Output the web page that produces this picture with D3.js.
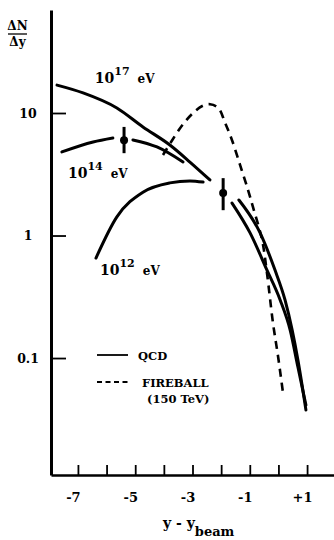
<!DOCTYPE html>
<html>
<head>
<meta charset="utf-8">
<script src="https://cdn.jsdelivr.net/npm/d3@7"></script>
<style>
  body { margin: 0; background: #fff; }
  svg { display: block; }
  text { font-family: "DejaVu Serif", serif; font-weight: bold; fill: #000; }
</style>
</head>
<body>
<svg id="chart" width="334" height="540"></svg>
<script>

// ticks
const xTicks = [-7, -6, -5, -4, -3, -2, -1, 0, 1];
const xTickLabels = ["-7", "", "-5", "", "-3", "", "-1", "", "+1"];
const yTicks = [0.1, 1, 10];
const yTickLabels = ["0.1", "1", "10"];

// QCD curves  [y - ybeam, dN/dy]
const qcd17 = [[-7.73, 16.9], [-6.82, 14.6], [-5.64, 11.0], [-4.73, 7.7], [-3.79, 5.48], [-3.09, 3.98], [-2.39, 2.84]];
const qcd14a = [[-7.56, 4.81], [-6.47, 5.8], [-5.78, 6.25]];
const qcd14b = [[-5.08, 6.03], [-4.24, 5.28], [-3.33, 3.98]];
const qcd12 = [[-6.37, 0.655], [-5.64, 1.42], [-4.73, 2.26], [-3.79, 2.69], [-3.09, 2.79], [-2.63, 2.73]];
const tailA = [[-1.62, 1.84], [-0.99, 1.05], [-0.40, 0.522], [0.06, 0.298], [0.41, 0.169], [0.68, 0.0845], [0.96, 0.0413]];
const tailB = [[-1.38, 1.95], [-0.64, 1.05], [-0.12, 0.522], [0.23, 0.298], [0.48, 0.169], [0.68, 0.0964], [0.96, 0.0377]];

// fireball 150 TeV (dashed)
const fireball = [[-4.03, 4.54], [-3.71, 6.0], [-3.33, 8.1], [-2.98, 10.0], [-2.66, 11.4],
  [-2.39, 11.8], [-2.10, 11.0], [-1.86, 8.3], [-1.62, 6.0], [-1.34, 3.77], [-1.06, 2.35],
  [-0.89, 1.71], [-0.57, 0.918], [-0.40, 0.494], [-0.19, 0.193], [-0.01, 0.102], [0.16, 0.0518]];

// data points with error bars
const errX = [-5.39, -1.93];
const errY = [6.0, 2.22];
const errLo = [4.7, 1.61];
const errHi = [7.7, 2.94];

// energy labels
const energyExp = ["17", "14", "12"];
const energyX = [-6.41, -7.35, -6.23];
const energyY = [17.6, 2.94, 0.477];

const svg = d3.select('#chart');

let x = d3.scaleLinear().domain([-7.94, 1.94]).range([51, 334]);
let y = d3.scaleLog().domain([0.0111, 69.3]).range([475, 10]);

// axes
let xAxis = d3.axisBottom(x)
  .tickValues(xTicks)
  .tickSizeInner(-10)
  .tickSizeOuter(0)
  .tickPadding(18)
  .tickFormat((d, i) => xTickLabels[i]);

let gx = svg.append('g')
  .attr('transform', 'translate(0,475)')
  .call(xAxis);
gx.select('.domain').attr('stroke-width', 2.5);
gx.selectAll('.tick line').attr('stroke-width', 1.8);
gx.selectAll('.tick text')
  .attr('font-size', 13)
  .attr('font-family', '"DejaVu Serif", serif')
  .attr('dx', -5);

let yAxis = d3.axisLeft(y)
  .tickValues(yTicks)
  .tickSizeInner(-15)
  .tickSizeOuter(0)
  .tickFormat((d, i) => yTickLabels[i]);

let gy = svg.append('g')
  .attr('transform', 'translate(51,0)')
  .call(yAxis);
gy.select('.domain').attr('stroke-width', 3);
gy.selectAll('.tick line').attr('stroke-width', 1.8);
gy.selectAll('.tick text')
  .attr('font-size', 12.5)
  .attr('font-family', '"DejaVu Serif", serif')
  .attr('text-anchor', 'middle')
  .attr('x', -23);

// axis titles
svg.append('text').attr('x', 17.5).attr('y', 30).attr('text-anchor', 'middle')
  .attr('font-size', 12).text('ΔN');
svg.append('line').attr('x1', 8).attr('x2', 27).attr('y1', 34).attr('y2', 34)
  .attr('stroke', '#000').attr('stroke-width', 1.3);
svg.append('text').attr('x', 17.5).attr('y', 46).attr('text-anchor', 'middle')
  .attr('font-size', 12).text('Δy');

let xt = svg.append('text').attr('x', 163).attr('y', 528).attr('font-size', 14);
xt.append('tspan').text('y - y');
xt.append('tspan').attr('dy', 8).attr('font-size', 13).text('beam');

// curves
let line = d3.line()
  .x(d => x(d[0]))
  .y(d => y(d[1]))
  .curve(d3.curveMonotoneX);

let solid = [qcd17, qcd14a, qcd14b, qcd12, tailA, tailB];

svg.selectAll('.qcd')
  .data(solid)
  .join('path')
  .classed('qcd', true)
  .attr('d', line)
  .attr('fill', 'none')
  .attr('stroke', '#000')
  .attr('stroke-width', 3)
  .attr('stroke-linecap', 'round');

svg.append('path')
  .datum(fireball)
  .attr('d', d3.line().x(d => x(d[0])).y(d => y(d[1])).curve(d3.curveCatmullRom))
  .attr('fill', 'none')
  .attr('stroke', '#000')
  .attr('stroke-width', 2.6)
  .attr('stroke-dasharray', '8,6');

// error bars
svg.selectAll('.err')
  .data(errX)
  .join('line')
  .classed('err', true)
  .attr('x1', d => x(d)).attr('x2', d => x(d))
  .attr('y1', (d, i) => y(errHi[i]))
  .attr('y2', (d, i) => y(errLo[i]))
  .attr('stroke', '#000')
  .attr('stroke-width', 3);

svg.selectAll('.pt')
  .data(errX)
  .join('circle')
  .classed('pt', true)
  .attr('cx', d => x(d))
  .attr('cy', (d, i) => y(errY[i]))
  .attr('r', 4)
  .attr('fill', '#000');

// energy labels 10^n eV
energyExp.forEach((e, i) => {
  let t = svg.append('text')
    .attr('x', x(energyX[i]))
    .attr('y', y(energyY[i]))
    .attr('font-size', 14);
  t.append('tspan').text('10');
  t.append('tspan').attr('dy', -8).attr('font-size', 11).text(e);
  t.append('tspan').attr('dy', 8).attr('dx', 8).attr('font-size', 12).text('eV');
});

// legend
let lg = svg.append('g').attr('font-size', 11.5);
lg.append('line').attr('x1', 97).attr('x2', 128).attr('y1', 355).attr('y2', 355)
  .attr('stroke', '#000').attr('stroke-width', 1.8);
lg.append('text').attr('x', 138).attr('y', 359.5).text('QCD');
lg.append('line').attr('x1', 97).attr('x2', 128).attr('y1', 382).attr('y2', 382)
  .attr('stroke', '#000').attr('stroke-width', 1.8).attr('stroke-dasharray', '5,3.5');
lg.append('text').attr('x', 142).attr('y', 386.5).text('FIREBALL');
lg.append('text').attr('x', 147).attr('y', 403).text('(150 TeV)');

</script>
</body>
</html>
